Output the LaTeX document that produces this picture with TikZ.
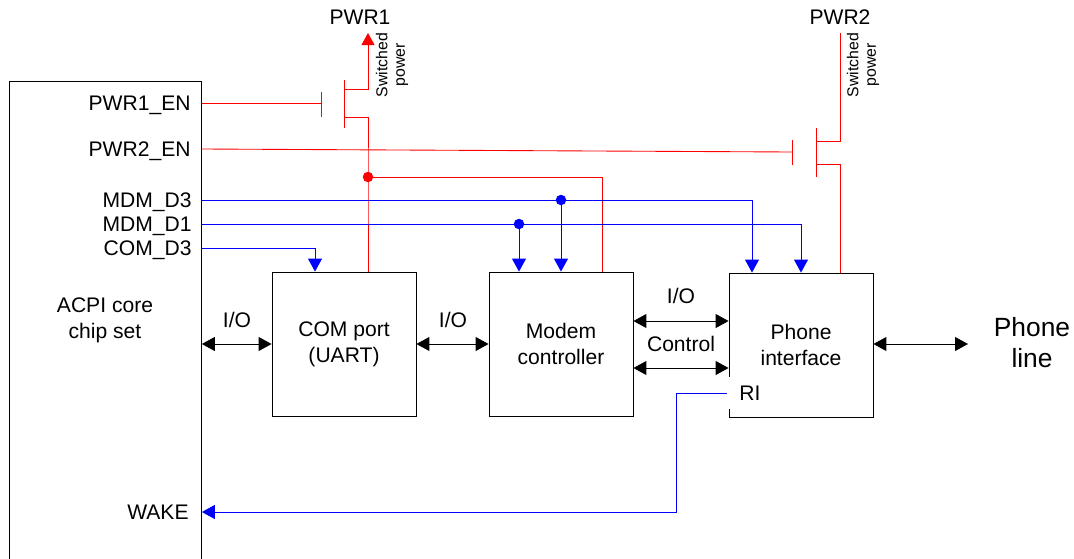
\documentclass[tikz,border=0pt]{standalone}
\usepackage{fontspec}
\setmainfont{Liberation Sans}
\usetikzlibrary{arrows.meta}

\tikzset{
  block/.style={draw, minimum width=2.88cm, minimum height=2.88cm, align=center},
  pin/.style={anchor=east, inner sep=0pt, text height=8.6pt, text depth=0pt},
  lbl/.style={inner sep=0pt, text height=8.6pt, text depth=0pt},
  pwr/.style={red},
  sig/.style={blue, -{Triangle[length=0.26cm, width=0.28cm]}},
  bus/.style={{Triangle[length=0.26cm, width=0.28cm]}-{Triangle[length=0.26cm, width=0.28cm]}},
  dot/.style={circle, fill, inner sep=0pt, minimum size=0.21cm},
}

\begin{document}
\begin{tikzpicture}[x=0.02cm, y=-0.02cm, line width=0.5pt, font=\fontsize{12}{14.7}\selectfont]
      \useasboundingbox (0,0) rectangle (1074,558);

      % chip set
      \node (acpi) [draw, anchor=north west, minimum width=3.84cm, minimum height=11cm] at (9,81) {};
      \node [align=center] at (105,320) {ACPI core\\chip set};
      \node (pwr1en) [pin] at (191,103) {PWR1\_EN};
      \node (pwr2en) [pin] at (191,149) {PWR2\_EN};
      \node (mdmdthree) [pin] at (192,200) {MDM\_D3};
      \node (mdmdone) [pin] at (192,224) {MDM\_D1};
      \node (comdthree) [pin] at (192,248) {COM\_D3};
      \node (wake) [pin] at (189,512) {WAKE};

      % blocks
      \node (com) [block] at (344,344) {COM port\\(UART)};
      \node (modem) [block] at (561,344) {Modem\\controller};
      \node (phone) [block] at (801,345) {Phone\\interface};
      \node (line) [align=center, font=\fontsize{15}{17.6}\selectfont] at (1032,343) {Phone\\line};
      \coordinate (pl) at (968,344);

      % data paths
      \draw [bus] (acpi.east |- com.west) -- (com.west);
      \node [lbl] at (237,320) {I/O};
      \draw [bus] (com.east) -- (modem.west);
      \node [lbl] at (453,320) {I/O};
      \draw [bus] ([yshift=0.46cm]modem.east) -- ([yshift=0.46cm]modem.east -| phone.west);
      \node [lbl] at (681,296) {I/O};
      \draw [bus] ([yshift=-0.48cm]modem.east) -- ([yshift=-0.48cm]modem.east -| phone.west);
      \node [lbl] at (681,344) {Control};
      \draw [bus] (phone.east |- pl) -- (pl);

      % switch 1
      \node (pwr1) [lbl] at (360,17) {PWR1};
      \node [rotate=90, align=center, inner sep=0pt, font=\fontsize{9}{10}\selectfont] at (392,65) {Switched\\power};
      \coordinate (s1) at (368,33);
      \draw [pwr] (acpi.east |- pwr1en) -- (321,103);
      \draw [pwr] (321,92) -- (321,117);
      \draw [pwr] (344,80) -- (344,128);
      \draw [pwr, -{Triangle[length=0.24cm, width=0.26cm]}] (344,89) -| (s1);
      \node (dr) [dot, red] at (368,177) {};
      \draw [pwr] (344,117) -| (dr.center) -- (dr |- com.north);
      \draw [pwr] (dr.center) -| ([xshift=0.82cm]modem.north);

      % switch 2
      \node (pwr2) [lbl] at (840,17) {PWR2};
      \node [rotate=90, align=center, inner sep=0pt, font=\fontsize{9}{10}\selectfont] at (863,65) {Switched\\power};
      \coordinate (s2) at (840,33);
      \draw [pwr] (acpi.east |- pwr2en) -- (792,152);
      \draw [pwr] (792,140) -- (792,165);
      \draw [pwr] (816,128) -- (816,177);
      \draw [pwr] (816,141) -| (s2);
      \draw [pwr] (816,164) -| ([xshift=0.78cm]phone.north);

      % control lines
      \node (dthree) [dot, blue] at (561,200) {};
      \node (done) [dot, blue] at (519,224) {};
      \draw [sig] (acpi.east |- mdmdthree) -| ([xshift=-0.98cm]phone.north);
      \draw [sig] (dthree.center) -- (dthree |- modem.north);
      \draw [sig] (acpi.east |- mdmdone) -| (phone.north);
      \draw [sig] (done.center) -- (done |- modem.north);
      \draw [sig] (acpi.east |- comdthree) -| ([xshift=-0.58cm]com.north);

      % ring indicator
      \node (ri) [lbl, fill=white, inner xsep=7pt, inner ysep=5pt] at (750,393) {RI};
      \draw [sig] (ri.west) -- ++(-1cm,0) |- (acpi.east |- wake);

\end{tikzpicture}
\end{document}
